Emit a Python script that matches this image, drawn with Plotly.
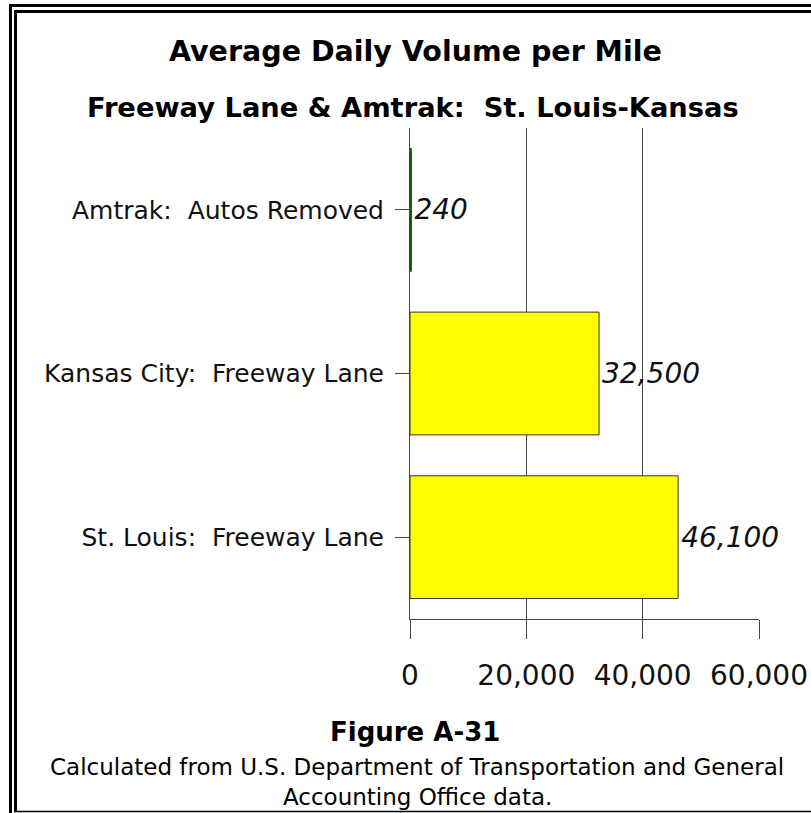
import plotly.graph_objects as go

categories = ["St. Louis:  Freeway Lane", "Kansas City:  Freeway Lane", "Amtrak:  Autos Removed"]
values = [46100, 32500, 240]
value_labels = ["46,100", "32,500", "240"]
bar_colors = ["#FFFF00", "#FFFF00", "#0B5A0B"]
line_colors = ["#333333", "#333333", "#0B5A0B"]
x_tickvals = [0, 20000, 40000, 60000]
x_ticktext = ["0", "20,000", "40,000", "60,000"]

W, H = 811, 813
L, R, T, B = 410, 52, 128, 194
PW = W - L - R
PH = H - T - B

def px(x):
    return (x - L) / PW

def py(y):
    return (H - B - y) / PH

FONT = "DejaVu Sans"

fig = go.Figure(go.Bar(
    y=categories, x=values, orientation="h",
    marker=dict(color=bar_colors, line=dict(color=line_colors, width=1)),
    width=0.75,
    text=value_labels, textposition="outside", cliponaxis=False,
    textfont=dict(family=FONT, size=28, color="#111111", style="italic"),
))

fig.update_layout(
    width=W, height=H,
    margin=dict(l=L, r=R, t=T, b=B, autoexpand=False),
    paper_bgcolor="white", plot_bgcolor="white",
    showlegend=False,
    font=dict(family=FONT, color="#111111"),
    xaxis=dict(range=[0, 60000], tickvals=x_tickvals, ticktext=x_ticktext,
               showgrid=True, gridcolor="#444444", gridwidth=1,
               showline=True, linecolor="#444444", linewidth=1,
               ticks="outside", ticklen=19, tickcolor="#444444",
               tickfont=dict(size=28), ticklabelstandoff=12, zeroline=False,
               automargin=False),
    yaxis=dict(showline=True, linecolor="#444444", linewidth=1,
               ticks="outside", ticklen=14, tickcolor="#444444",
               tickfont=dict(size=25), ticklabelstandoff=6,
               range=[-0.5, 2.5], automargin=False),
)

annotations = [
    ("Average Daily Volume per Mile", 415, 52, 28.5, True),
    ("Freeway Lane & Amtrak:  St. Louis-Kansas", 413, 107, 27.3, True),
    ("Figure A-31", 415, 732, 26, True),
    ("Calculated from U.S. Department of Transportation and General", 417, 767, 23, False),
    ("Accounting Office data.", 417, 797, 23, False),
]
for text, x, y, size, bold in annotations:
    fig.add_annotation(
        text=f"<b>{text}</b>" if bold else text,
        xref="paper", yref="paper", x=px(x), y=py(y),
        xanchor="center", yanchor="middle", showarrow=False,
        font=dict(family=FONT, size=size, color="#000000"),
    )

frame_lines = [
    (10.5, 4, 10.5, 813, 3),
    (15.5, 10, 15.5, 812, 3),
    (9, 5.5, 811, 5.5, 3),
    (14, 11.5, 811, 11.5, 3),
    (14, 811.5, 811, 811.5, 1.5),
]
for x0, y0, x1, y1, w in frame_lines:
    fig.add_shape(type="line", xref="paper", yref="paper",
                  x0=px(x0), y0=py(y0), x1=px(x1), y1=py(y1),
                  line=dict(color="black", width=w))

fig.write_html("out.html", config={"displayModeBar": False},
               post_script="document.body.style.margin='0';document.body.style.overflow='hidden';")
